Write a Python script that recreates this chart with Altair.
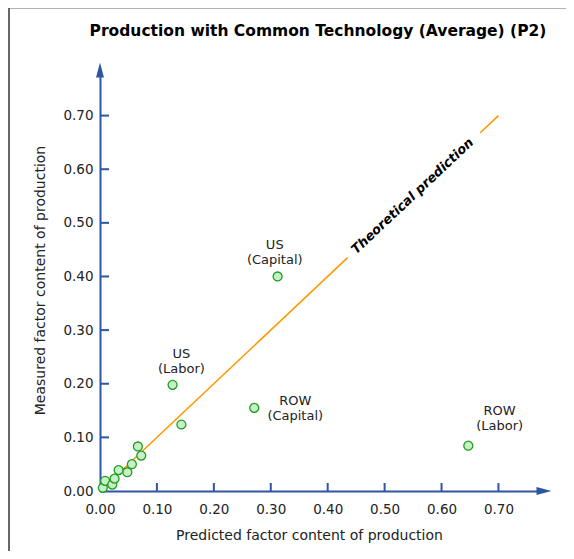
import altair as alt
import pandas as pd

# Data
pred = [0.005, 0.009, 0.0216, 0.0256, 0.0327, 0.048, 0.056, 0.0665, 0.0725, 0.143, 0.1275, 0.312, 0.271, 0.647]
meas = [0.006, 0.019, 0.012, 0.023, 0.039, 0.035, 0.050, 0.083, 0.066, 0.124, 0.198, 0.400, 0.155, 0.0845]

label_text = ["US\n(Capital)", "US\n(Labor)", "ROW\n(Capital)", "ROW\n(Labor)"]
label_x = [0.307, 0.143, 0.343, 0.702]
label_y = [0.458, 0.256, 0.168, 0.150]

line_x1 = [0.0, 0.668]
line_x2 = [0.435, 0.70]

tick_values = [0.1, 0.2, 0.3, 0.4, 0.5, 0.6, 0.7]
all_ticks = [0.0, 0.1, 0.2, 0.3, 0.4, 0.5, 0.6, 0.7]

TITLE = "Production with Common Technology (Average) (P2)"

X_MAX = 0.78
Y_MAX = 0.785
W = 444
H = 421
AXIS_COLOR = "#2F55A5"
FONT = "DejaVu Sans"

pts = pd.DataFrame({"x": pred, "y": meas})
labels = pd.DataFrame({"x": label_x, "y": label_y, "t": label_text})
segs = pd.DataFrame({"x": line_x1, "x2": line_x2, "y": line_x1, "y2": line_x2})
ticks = pd.DataFrame({"v": tick_values})

xs = alt.Scale(domain=[0, X_MAX], nice=False, zero=True)
ys = alt.Scale(domain=[0, Y_MAX], nice=False, zero=True)

xaxis = alt.Axis(values=all_ticks, format=".2f", grid=False, ticks=False, tickSize=0,
                 labelFlush=False, labelOverlap=False,
                 domainColor=AXIS_COLOR, domainWidth=2, labelFontSize=13.5, labelColor="#222",
                 labelPadding=11, labelFont=FONT, title="Predicted factor content of production",
                 titleFont=FONT, titleFontSize=14, titleFontWeight="normal", titleColor="#222",
                 titleX=209, titleY=48, titleBaseline="alphabetic", titleAnchor="start", titleAlign="center")
yaxis = alt.Axis(values=all_ticks, format=".2f", grid=False, ticks=False, tickSize=0,
                 labelFlush=False, labelOverlap=False,
                 domainColor=AXIS_COLOR, domainWidth=2, labelFontSize=13.5, labelColor="#222",
                 labelPadding=7, labelFont=FONT, title="Measured factor content of production",
                 titleFont=FONT, titleFontSize=14, titleFontWeight="normal", titleColor="#222",
                 titleX=-60, titleY=210, titleBaseline="middle", titleAlign="center", titleAngle=270)

base_pts = alt.Chart(pts).mark_point(filled=True, size=80, shape="circle", fill="#c9efc9",
                                     stroke="#1e9e1e", strokeWidth=1.3, opacity=1).encode(
    x=alt.X("x:Q", scale=xs, axis=xaxis),
    y=alt.Y("y:Q", scale=ys, axis=yaxis),
)

line = alt.Chart(segs).mark_rule(color="#FF9900", strokeWidth=1.6).encode(
    x=alt.X("x:Q", scale=xs), x2="x2:Q",
    y=alt.Y("y:Q", scale=ys), y2="y2:Q",
)

theory = alt.Chart(pd.DataFrame({"x": [0.549], "y": [0.55], "t": ["Theoretical prediction"]})).mark_text(
    font=FONT, fontSize=13, fontWeight="bold", fontStyle="italic", angle=316.7,
    align="center", baseline="middle", color="#000").encode(
    x=alt.X("x:Q", scale=xs), y=alt.Y("y:Q", scale=ys), text="t:N")

lab = alt.Chart(labels).mark_text(font=FONT, fontSize=13, color="#222", lineBreak="\n",
                                  align="center", baseline="middle", lineHeight=15).encode(
    x=alt.X("x:Q", scale=xs), y=alt.Y("y:Q", scale=ys), text="t:N")

title_mark = alt.Chart(pd.DataFrame({"t": [TITLE]})).mark_text(
    font=FONT, fontSize=15.5, fontWeight="bold", color="#000", align="center", baseline="alphabetic").encode(
    x=alt.value(218), y=alt.value(-34), text="t:N")

xt = alt.Chart(ticks).mark_rule(color=AXIS_COLOR, strokeWidth=2).encode(
    x=alt.X("v:Q", scale=xs), y=alt.value(H), y2=alt.value(H - 8))
yt = alt.Chart(ticks).mark_rule(color=AXIS_COLOR, strokeWidth=2).encode(
    y=alt.Y("v:Q", scale=ys), x=alt.value(0), x2=alt.value(9))

arrow_up = alt.Chart(pd.DataFrame({"x": [0.0], "y": [Y_MAX]})).mark_point(
    shape="M0,-1L0.53,1L-0.53,1Z", size=225, filled=True, fill=AXIS_COLOR, opacity=1, strokeWidth=0).encode(
    x=alt.X("x:Q", scale=xs), y=alt.Y("y:Q", scale=ys))
arrow_right = alt.Chart(pd.DataFrame({"x": [X_MAX], "y": [0.0]})).mark_point(
    shape="M1,0L-1,0.53L-1,-0.53Z", size=225, filled=True, fill=AXIS_COLOR, opacity=1, strokeWidth=0).encode(
    x=alt.X("x:Q", scale=xs), y=alt.Y("y:Q", scale=ys))

frame_left = alt.Chart(pd.DataFrame({"a": [0]})).mark_rule(color="#666", strokeWidth=2).encode(
    x=alt.value(-91), y=alt.value(-62), y2=alt.value(H + 70))
frame_top = alt.Chart(pd.DataFrame({"a": [0]})).mark_rule(color="#666", strokeWidth=1).encode(
    x=alt.value(-92), x2=alt.value(W + 30), y=alt.value(-62))

chart = alt.layer(frame_left, frame_top, title_mark, line, theory, xt, yt, arrow_up, arrow_right,
                  base_pts, lab).properties(
    width=W, height=H,
    background="white",
    autosize=alt.AutoSizeParams(type="none"),
    padding={"left": 92, "top": 62, "right": 22, "bottom": 60},
).configure_view(stroke=None)

chart.save("out.html", embed_options={"renderer": "svg", "actions": False})
